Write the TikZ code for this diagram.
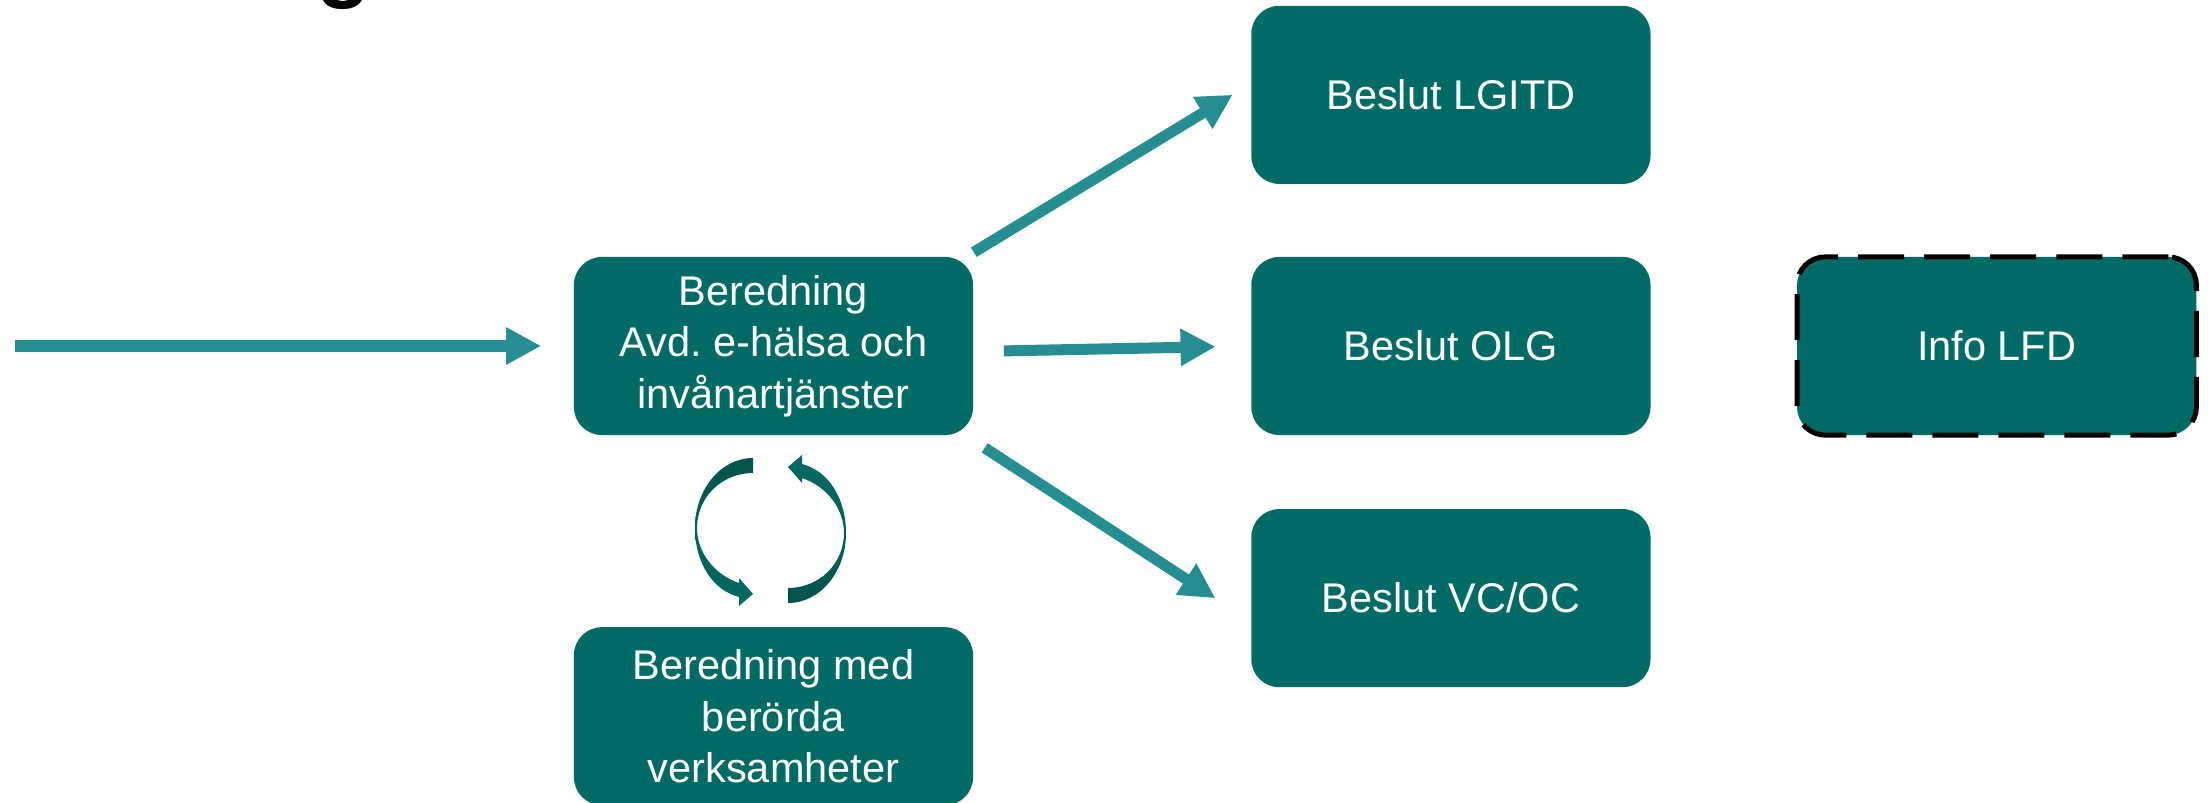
\documentclass[tikz,border=0pt]{standalone}
\usepackage{fontspec}
\setmainfont{Liberation Sans}
\frenchspacing
\usetikzlibrary{arrows.meta}
\definecolor{boxteal}{RGB}{0,107,100}
\definecolor{arrowteal}{RGB}{38,141,145}
\definecolor{cycledark}{RGB}{0,84,76}
\tikzstyle{block} = [rectangle, rounded corners=0.28cm, minimum width=3.99cm, minimum height=1.78cm, text centered, align=center, fill=boxteal, text=white, font=\fontsize{11.8}{14.6}\selectfont]
\tikzstyle{infoblock} = [block, draw=black, line width=0.05cm, dash pattern=on 0.46cm off 0.2cm]
\tikzstyle{flow} = [line width=0.11cm, draw=arrowteal, -{Triangle[length=0.35cm, width=0.35cm]}]
\newcommand{\cyclepath}{(753,458) -- (753,473) .. controls (722,473) and (697,497) .. (697,528) .. controls (697,553) and (715,575) .. (739,583) -- (739,578) -- (753,594) -- (739,606) -- (739,597) .. controls (712,590) and (695,562) .. (695,528) .. controls (695,489) and (721,458) .. (753,458) -- cycle}

\begin{document}
\begin{tikzpicture}[x=0.01cm, y=-0.01cm]
        \useasboundingbox (0,0) rectangle (2208,803);
        % Nodes
        \node (title) [anchor=base, inner sep=0pt, font=\fontsize{25.6}{30}\selectfont\bfseries] at (344,-9) {g};
        \node (bered) [block] at (773.5,346) {Beredning\\Avd. e-hälsa och\\invånartjänster};
        \node (berord) [block, below of=bered, node distance=3.7cm] {Beredning med\\berörda\\verksamheter};
        \node (olg) [block, right of=bered, node distance=6.77cm] {Beslut OLG};
        \node (lgitd) [block, above of=olg, node distance=2.51cm] {Beslut LGITD};
        \node (vcoc) [block, below of=olg, node distance=2.52cm] {Beslut VC/OC};
        \node (lfd) [infoblock, right of=olg, node distance=5.455cm] {Info LFD};
        \coordinate (entry) at (15,346);

        % Arrows
        \draw [flow, shorten >=0.32cm] (entry) -- (bered.west);
        \draw [flow, shorten >=0.21cm] ([yshift=0.04cm]bered.north east) -- ([yshift=0.11cm]lgitd.west);
        \draw [flow, shorten <=0.3cm, shorten >=0.35cm] ([yshift=-0.055cm]bered.east) -- (olg.west);
        \draw [flow, shorten <=0.13cm, shorten >=0.42cm] ([yshift=-0.05cm]bered.south east) -- ([yshift=-0.23cm]vcoc.west);

        % Cycle between bered and berord
        \shade [top color=cycledark, bottom color=boxteal] \cyclepath;
        \shade [top color=boxteal, bottom color=cycledark, rotate around={180:(770.5,530.5)}] \cyclepath;
\end{tikzpicture}
\end{document}
